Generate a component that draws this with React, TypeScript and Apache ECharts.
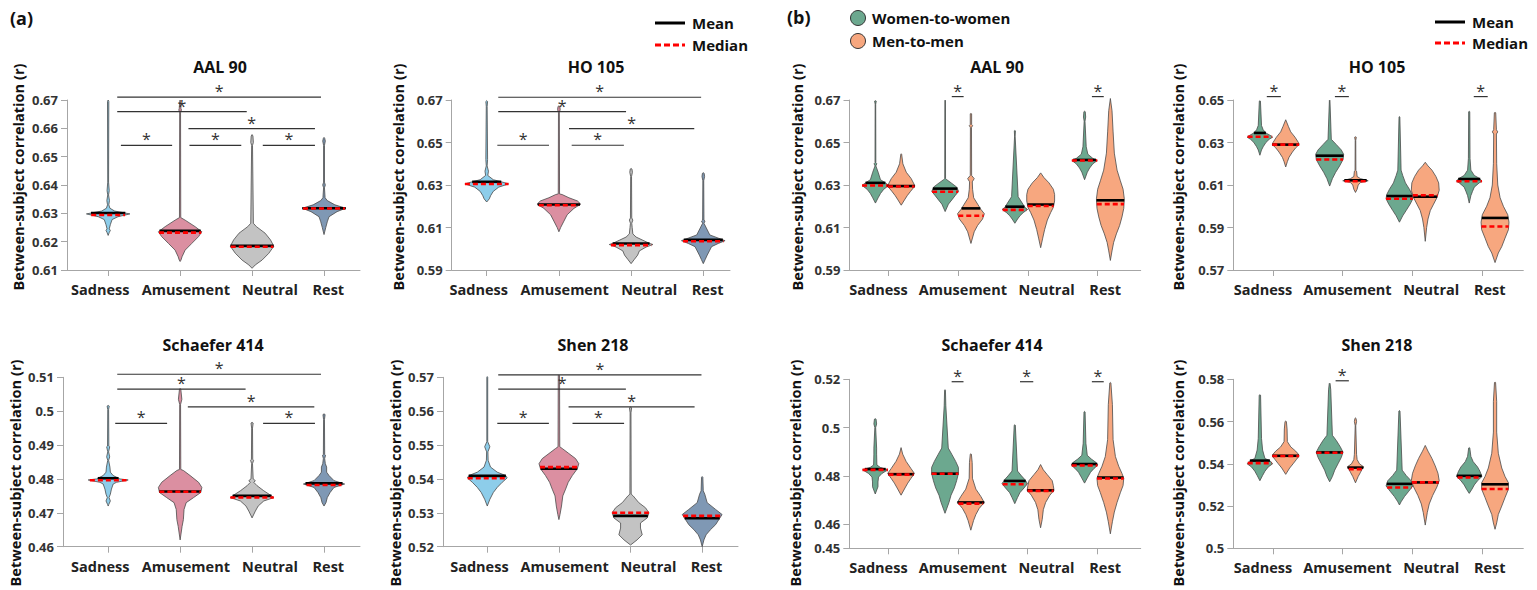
import React, { useEffect, useRef } from 'react';
import * as echarts from 'echarts';

// ---------------- DATA ----------------
const categories = ['Sadness', 'Amusement', 'Neutral', 'Rest'];
const conditionColors = ['#8DCDEA', '#DB8FA1', '#C3C3C3', '#7F98B4'];
const groupNames = ['Women-to-women', 'Men-to-men'];
const groupColors = ['#6CA88F', '#F7A77F'];
const panelTitles = ['AAL 90', 'HO 105', 'Schaefer 414', 'Shen 218', 'AAL 90', 'HO 105', 'Schaefer 414', 'Shen 218'];
const yAxisName = 'Between-subject correlation (r)';

// violin profiles: [value, relative density (0..1 of widest)]
// ---- (a) AAL 90
const aAAL90Ticks = [0.61, 0.62, 0.63, 0.64, 0.65, 0.66, 0.67];
const aAAL90Sadness = [[0.670, 0], [0.6695, 0.03], [0.641, 0.02], [0.638, 0.05], [0.6365, 0.02], [0.6345, 0.06], [0.633, 0.03], [0.6318, 0.08], [0.6308, 0.3], [0.6298, 1], [0.6288, 0.45], [0.6278, 0.18], [0.626, 0.1], [0.6245, 0.05], [0.624, 0.1], [0.6232, 0.05], [0.6222, 0]];
const aAAL90Amusement = [[0.670, 0], [0.6695, 0.02], [0.667, 0.04], [0.6665, 0.06], [0.6655, 0.02], [0.6285, 0.03], [0.6276, 0.23], [0.6253, 0.69], [0.6235, 1], [0.6218, 0.85], [0.6194, 0.54], [0.617, 0.23], [0.6147, 0.09], [0.6135, 0.04], [0.613, 0]];
const aAAL90Neutral = [[0.6578, 0], [0.6573, 0.04], [0.655, 0.06], [0.654, 0.02], [0.6265, 0.06], [0.6253, 0.2], [0.623, 0.6], [0.6206, 0.85], [0.6184, 1], [0.6159, 0.77], [0.6135, 0.46], [0.6118, 0.15], [0.6106, 0]];
const aAAL90Rest = [[0.6568, 0], [0.6565, 0.03], [0.6555, 0.06], [0.654, 0.02], [0.641, 0.02], [0.640, 0.06], [0.639, 0.02], [0.6355, 0.05], [0.6345, 0.15], [0.633, 0.5], [0.6318, 1], [0.6306, 0.6], [0.6288, 0.23], [0.627, 0.15], [0.625, 0.08], [0.6225, 0]];
const aAAL90Mean = [0.6301, 0.6238, 0.6185, 0.6318];
const aAAL90Median = [0.6294, 0.6232, 0.6182, 0.6317];
const aAAL90Sig = [[0.126, 2.958, 0.6710], [0.126, 1.926, 0.6659], [1.116, 2.874, 0.6599], [0.177, 0.889, 0.654], [1.13, 1.85, 0.654], [2.149, 2.874, 0.654]];

// ---- (a) HO 105
const aHO105Ticks = [0.59, 0.61, 0.63, 0.65, 0.67];
const aHO105Sadness = [[0.6697, 0], [0.6693, 0.04], [0.667, 0.02], [0.642, 0.04], [0.639, 0.02], [0.6365, 0.08], [0.6345, 0.05], [0.6325, 0.3], [0.631, 0.85], [0.6305, 1], [0.629, 0.55], [0.627, 0.3], [0.625, 0.18], [0.6235, 0.12], [0.622, 0]];
const aHO105Amusement = [[0.6672, 0], [0.667, 0.04], [0.6655, 0.06], [0.664, 0.02], [0.6258, 0.03], [0.6255, 0.15], [0.624, 0.46], [0.6225, 0.85], [0.621, 1], [0.619, 0.69], [0.616, 0.38], [0.613, 0.23], [0.610, 0.08], [0.608, 0]];
const aHO105Neutral = [[0.6378, 0], [0.6375, 0.04], [0.636, 0.06], [0.634, 0.02], [0.6145, 0.03], [0.6135, 0.08], [0.612, 0.03], [0.610, 0.05], [0.607, 0.08], [0.6055, 0.23], [0.604, 0.54], [0.6025, 0.85], [0.602, 1], [0.6008, 0.69], [0.599, 0.38], [0.597, 0.3], [0.595, 0.15], [0.593, 0]];
const aHO105Rest = [[0.6358, 0], [0.6355, 0.04], [0.634, 0.06], [0.632, 0.02], [0.6135, 0.03], [0.613, 0.08], [0.612, 0.03], [0.6065, 0.3], [0.605, 0.69], [0.6038, 1], [0.6025, 0.69], [0.601, 0.38], [0.599, 0.28], [0.597, 0.18], [0.595, 0.09], [0.593, 0]];
const aHO105Mean = [0.6315, 0.6208, 0.6025, 0.6042];
const aHO105Median = [0.6305, 0.6205, 0.6017, 0.6035];
const aHO105Sig = [[0.16, 2.97, 0.6713], [0.16, 1.93, 0.6645], [1.14, 2.875, 0.6565], [0.147, 0.863, 0.6487], [1.177, 1.9, 0.6487]];

// ---- (a) Schaefer 414
const aSch414Ticks = [0.46, 0.47, 0.48, 0.49, 0.50, 0.51];
const aSch414Sadness = [[0.5017, 0], [0.5015, 0.05], [0.5005, 0.02], [0.4897, 0.03], [0.4895, 0.07], [0.488, 0.02], [0.4865, 0.07], [0.4855, 0.02], [0.4835, 0.08], [0.482, 0.1], [0.481, 0.23], [0.480, 0.54], [0.4797, 0.92], [0.479, 0.38], [0.4785, 0.23], [0.477, 0.15], [0.4755, 0.1], [0.4745, 0.04], [0.4735, 0.1], [0.4725, 0.03], [0.472, 0]];
const aSch414Amusement = [[0.5067, 0], [0.5065, 0.03], [0.5035, 0.08], [0.502, 0.02], [0.4828, 0.03], [0.4825, 0.15], [0.481, 0.46], [0.479, 0.85], [0.4775, 1], [0.476, 0.95], [0.4745, 0.62], [0.473, 0.28], [0.471, 0.18], [0.468, 0.15], [0.466, 0.09], [0.462, 0]];
const aSch414Neutral = [[0.4967, 0], [0.4965, 0.05], [0.495, 0.02], [0.4858, 0.03], [0.4855, 0.07], [0.4845, 0.02], [0.480, 0.05], [0.4795, 0.15], [0.479, 0.08], [0.478, 0.23], [0.4765, 0.54], [0.4752, 0.85], [0.4745, 1], [0.4735, 0.54], [0.472, 0.28], [0.4705, 0.15], [0.4685, 0]];
const aSch414Rest = [[0.4992, 0], [0.499, 0.05], [0.4975, 0.02], [0.4872, 0.03], [0.487, 0.07], [0.486, 0.03], [0.4845, 0.06], [0.4835, 0.12], [0.482, 0.12], [0.481, 0.23], [0.4795, 0.46], [0.4785, 0.95], [0.4775, 0.46], [0.476, 0.28], [0.4745, 0.15], [0.473, 0.09], [0.472, 0]];
const aSch414Mean = [0.4802, 0.4763, 0.475, 0.4787];
const aSch414Median = [0.4796, 0.4762, 0.4745, 0.4782];
const aSch414Sig = [[0.126, 2.958, 0.5109], [0.126, 1.91, 0.5065], [1.107, 2.865, 0.5013], [0.098, 0.819, 0.4964], [2.153, 2.874, 0.4964]];

// ---- (a) Shen 218
const aShen218Ticks = [0.52, 0.53, 0.54, 0.55, 0.56, 0.57];
const aShen218Sadness = [[0.5702, 0], [0.570, 0.02], [0.551, 0.02], [0.5495, 0.12], [0.548, 0.03], [0.5455, 0.04], [0.5435, 0.15], [0.542, 0.46], [0.541, 0.85], [0.5403, 0.92], [0.539, 0.69], [0.5375, 0.46], [0.536, 0.28], [0.534, 0.12], [0.532, 0]];
const aShen218Amusement = [[0.5707, 0], [0.5705, 0.03], [0.5495, 0.04], [0.549, 0.15], [0.5475, 0.46], [0.546, 0.77], [0.5445, 0.92], [0.543, 0.85], [0.541, 0.62], [0.539, 0.43], [0.537, 0.31], [0.535, 0.18], [0.532, 0.12], [0.5295, 0.05], [0.528, 0]];
const aShen218Neutral = [[0.5612, 0], [0.561, 0.05], [0.5595, 0.02], [0.5355, 0.03], [0.535, 0.12], [0.533, 0.38], [0.5315, 0.69], [0.530, 0.85], [0.5285, 0.77], [0.527, 0.46], [0.5255, 0.46], [0.5235, 0.54], [0.522, 0.3], [0.5205, 0]];
const aShen218Rest = [[0.5407, 0], [0.5405, 0.03], [0.5365, 0.05], [0.5355, 0.12], [0.533, 0.23], [0.531, 0.62], [0.5295, 0.92], [0.528, 0.77], [0.5265, 0.62], [0.525, 0.38], [0.5235, 0.18], [0.522, 0.08], [0.5205, 0.02], [0.520, 0]];
const aShen218Mean = [0.5409, 0.543, 0.5291, 0.5284];
const aShen218Median = [0.5402, 0.5435, 0.530, 0.5291];
const aShen218Sig = [[0.153, 2.99, 0.5707], [0.153, 1.935, 0.5665], [1.135, 2.894, 0.5613], [0.14, 0.86, 0.5564], [1.19, 1.91, 0.5564]];

// ---- (b) AAL 90
const bAAL90Ticks = [0.59, 0.61, 0.63, 0.65, 0.67];
const bAAL90Women = [
  [[0.6697, 0], [0.6695, 0.06], [0.668, 0.02], [0.6405, 0.03], [0.640, 0.1], [0.639, 0.03], [0.636, 0.2], [0.6325, 0.37], [0.631, 0.73], [0.6298, 0.98], [0.628, 0.61], [0.626, 0.37], [0.624, 0.2], [0.6215, 0]],
  [[0.670, 0], [0.6698, 0.02], [0.633, 0.03], [0.6325, 0.12], [0.631, 0.44], [0.629, 0.85], [0.627, 0.98], [0.625, 0.73], [0.623, 0.49], [0.621, 0.24], [0.6175, 0]],
  [[0.6557, 0], [0.6555, 0.04], [0.653, 0.02], [0.6245, 0.24], [0.622, 0.49], [0.6195, 0.73], [0.6185, 0.93], [0.617, 0.61], [0.6155, 0.37], [0.614, 0.2], [0.612, 0]],
  [[0.6647, 0], [0.6645, 0.05], [0.662, 0.08], [0.660, 0.03], [0.648, 0.12], [0.6445, 0.24], [0.6425, 0.61], [0.6415, 0.93], [0.640, 0.61], [0.638, 0.37], [0.636, 0.2], [0.6325, 0]],
];
const bAAL90Men = [
  [[0.6447, 0], [0.6445, 0.03], [0.640, 0.12], [0.636, 0.37], [0.633, 0.73], [0.6305, 0.93], [0.6295, 1], [0.627, 0.68], [0.625, 0.44], [0.623, 0.24], [0.6205, 0]],
  [[0.6637, 0], [0.6635, 0.05], [0.6585, 0.05], [0.658, 0.12], [0.657, 0.04], [0.6345, 0.05], [0.633, 0.24], [0.6315, 0.1], [0.628, 0.12], [0.624, 0.2], [0.621, 0.49], [0.6185, 0.73], [0.6165, 0.98], [0.614, 0.85], [0.611, 0.49], [0.608, 0.24], [0.6025, 0]],
  [[0.6357, 0], [0.6335, 0.24], [0.631, 0.61], [0.628, 0.93], [0.6255, 1.02], [0.6225, 1.02], [0.6195, 0.93], [0.617, 0.73], [0.6135, 0.49], [0.609, 0.29], [0.605, 0.15], [0.6005, 0]],
  [[0.6707, 0], [0.665, 0.12], [0.655, 0.2], [0.645, 0.29], [0.637, 0.49], [0.632, 0.73], [0.628, 0.93], [0.6235, 1.02], [0.619, 0.98], [0.615, 0.85], [0.611, 0.68], [0.607, 0.44], [0.603, 0.24], [0.599, 0.12], [0.5945, 0]],
];
const bAAL90WomenMean = [0.631, 0.6283, 0.6198, 0.6418];
const bAAL90WomenMedian = [0.6298, 0.6268, 0.6183, 0.6415];
const bAAL90MenMean = [0.6295, 0.619, 0.6208, 0.6228];
const bAAL90MenMedian = [0.6293, 0.6155, 0.6201, 0.621];
const bAAL90Sig = [[0.91, 1.08, 0.6716], [2.92, 3.09, 0.6716]];

// ---- (b) HO 105
const bHO105Ticks = [0.57, 0.59, 0.61, 0.63, 0.65];
const bHO105Women = [
  [[0.6497, 0], [0.6495, 0.04], [0.638, 0.12], [0.636, 0.24], [0.6345, 0.44], [0.633, 0.85], [0.6325, 0.93], [0.6315, 0.68], [0.630, 0.44], [0.628, 0.24], [0.6265, 0.12], [0.624, 0]],
  [[0.650, 0], [0.6498, 0.02], [0.6315, 0.12], [0.629, 0.49], [0.6265, 0.85], [0.6245, 1.02], [0.622, 0.98], [0.619, 0.73], [0.616, 0.44], [0.613, 0.2], [0.6095, 0]],
  [[0.6422, 0], [0.642, 0.03], [0.617, 0.12], [0.6145, 0.24], [0.611, 0.44], [0.608, 0.73], [0.6055, 0.93], [0.6035, 0.98], [0.601, 0.78], [0.598, 0.49], [0.5955, 0.24], [0.5925, 0]],
  [[0.6447, 0], [0.6445, 0.04], [0.6225, 0.06], [0.617, 0.12], [0.6145, 0.37], [0.613, 0.78], [0.6118, 0.93], [0.611, 0.73], [0.609, 0.37], [0.607, 0.24], [0.605, 0.12], [0.6015, 0]],
];
const bHO105Men = [
  [[0.6407, 0], [0.6375, 0.2], [0.635, 0.37], [0.6325, 0.68], [0.630, 0.93], [0.629, 0.98], [0.6275, 0.73], [0.6255, 0.49], [0.623, 0.24], [0.621, 0.12], [0.6185, 0]],
  [[0.6327, 0], [0.6325, 0.06], [0.631, 0.02], [0.6168, 0.03], [0.6165, 0.08], [0.614, 0.12], [0.613, 0.37], [0.612, 0.93], [0.6112, 0.37], [0.610, 0.2], [0.608, 0.12], [0.6065, 0]],
  [[0.6207, 0], [0.619, 0.2], [0.617, 0.49], [0.614, 0.78], [0.611, 0.98], [0.6075, 1.02], [0.604, 0.85], [0.601, 0.61], [0.598, 0.37], [0.594, 0.2], [0.590, 0.1], [0.5835, 0]],
  [[0.6442, 0], [0.644, 0.05], [0.636, 0.1], [0.635, 0.2], [0.634, 0.1], [0.620, 0.12], [0.610, 0.2], [0.604, 0.37], [0.600, 0.61], [0.596, 0.93], [0.5925, 1.02], [0.589, 0.98], [0.585, 0.73], [0.581, 0.49], [0.578, 0.24], [0.5735, 0]],
];
const bHO105WomenMean = [0.6345, 0.6238, 0.6048, 0.6128];
const bHO105WomenMedian = [0.6327, 0.622, 0.6035, 0.6118];
const bHO105MenMean = [0.629, 0.6122, 0.6045, 0.5945];
const bHO105MenMedian = [0.629, 0.6118, 0.6052, 0.5905];
const bHO105Sig = [[-0.086, 0.115, 0.6516], [0.89, 1.09, 0.6516], [2.88, 3.08, 0.6516]];

// ---- (b) Schaefer 414
const bSch414Ticks = [0.45, 0.46, 0.48, 0.50, 0.52];
const bSch414Women = [
  [[0.5037, 0], [0.5035, 0.06], [0.5015, 0.1], [0.500, 0.03], [0.4915, 0.1], [0.489, 0.1], [0.4845, 0.12], [0.4835, 0.37], [0.4825, 0.93], [0.481, 0.49], [0.4795, 0.24], [0.4775, 0.2], [0.4755, 0.2], [0.4725, 0]],
  [[0.5157, 0], [0.5155, 0.03], [0.509, 0.06], [0.4915, 0.24], [0.489, 0.49], [0.486, 0.78], [0.4835, 0.98], [0.481, 0.98], [0.478, 0.85], [0.475, 0.68], [0.472, 0.44], [0.469, 0.29], [0.4645, 0]],
  [[0.5012, 0], [0.501, 0.04], [0.482, 0.2], [0.480, 0.49], [0.4785, 0.73], [0.4768, 0.93], [0.475, 0.68], [0.473, 0.37], [0.471, 0.2], [0.4685, 0]],
  [[0.5067, 0], [0.5065, 0.04], [0.4935, 0.1], [0.4885, 0.2], [0.487, 0.49], [0.4855, 0.85], [0.4845, 0.98], [0.483, 0.68], [0.4815, 0.44], [0.4795, 0.24], [0.477, 0]],
];
const bSch414Men = [
  [[0.4917, 0], [0.489, 0.12], [0.486, 0.37], [0.483, 0.73], [0.481, 0.98], [0.479, 0.73], [0.477, 0.49], [0.475, 0.29], [0.472, 0]],
  [[0.4892, 0], [0.489, 0.04], [0.4855, 0.1], [0.479, 0.12], [0.4745, 0.37], [0.4715, 0.73], [0.469, 0.98], [0.4665, 0.61], [0.464, 0.37], [0.4615, 0.2], [0.4575, 0]],
  [[0.4847, 0], [0.4825, 0.2], [0.4805, 0.49], [0.478, 0.85], [0.476, 0.93], [0.474, 0.98], [0.472, 0.68], [0.469, 0.37], [0.466, 0.2], [0.462, 0.12], [0.4585, 0]],
  [[0.5187, 0], [0.5185, 0.04], [0.5095, 0.15], [0.495, 0.2], [0.488, 0.37], [0.484, 0.61], [0.481, 0.85], [0.479, 0.98], [0.476, 0.93], [0.473, 0.73], [0.469, 0.49], [0.465, 0.29], [0.461, 0.15], [0.456, 0]],
];
const bSch414WomenMean = [0.4828, 0.4809, 0.4779, 0.4849];
const bSch414WomenMedian = [0.4825, 0.4809, 0.4765, 0.4843];
const bSch414MenMean = [0.4807, 0.469, 0.474, 0.4793];
const bSch414MenMedian = [0.4805, 0.4685, 0.4738, 0.4789];
const bSch414Sig = [[0.91, 1.08, 0.519], [1.89, 2.08, 0.519], [2.92, 3.09, 0.519]];

// ---- (b) Shen 218
const bShen218Ticks = [0.50, 0.52, 0.54, 0.56, 0.58];
const bShen218Women = [
  [[0.5727, 0], [0.5725, 0.05], [0.552, 0.12], [0.5465, 0.2], [0.5425, 0.37], [0.5415, 0.73], [0.540, 0.93], [0.5385, 0.61], [0.5365, 0.37], [0.5345, 0.2], [0.532, 0]],
  [[0.5782, 0], [0.578, 0.03], [0.575, 0.08], [0.5535, 0.2], [0.551, 0.49], [0.548, 0.78], [0.5455, 0.98], [0.543, 0.85], [0.540, 0.61], [0.537, 0.37], [0.534, 0.2], [0.5315, 0]],
  [[0.5652, 0], [0.565, 0.04], [0.537, 0.2], [0.5345, 0.49], [0.532, 0.85], [0.5295, 0.98], [0.527, 0.68], [0.5245, 0.37], [0.522, 0.12], [0.5205, 0]],
  [[0.5477, 0], [0.5475, 0.04], [0.5435, 0.12], [0.541, 0.29], [0.5385, 0.61], [0.5365, 0.78], [0.534, 0.93], [0.532, 0.61], [0.530, 0.37], [0.528, 0.2], [0.526, 0]],
];
const bShen218Men = [
  [[0.5602, 0], [0.560, 0.05], [0.5565, 0.1], [0.5505, 0.12], [0.548, 0.37], [0.546, 0.73], [0.5445, 0.93], [0.5437, 0.98], [0.542, 0.78], [0.540, 0.54], [0.538, 0.29], [0.535, 0]],
  [[0.5617, 0], [0.5615, 0.04], [0.560, 0.08], [0.558, 0.02], [0.5445, 0.08], [0.542, 0.12], [0.540, 0.29], [0.5385, 0.61], [0.5375, 0.49], [0.536, 0.37], [0.534, 0.2], [0.531, 0]],
  [[0.5487, 0], [0.546, 0.2], [0.5425, 0.49], [0.539, 0.73], [0.5355, 0.93], [0.532, 1.02], [0.529, 0.85], [0.525, 0.54], [0.521, 0.29], [0.517, 0.15], [0.511, 0]],
  [[0.5787, 0], [0.5785, 0.04], [0.5695, 0.12], [0.555, 0.12], [0.545, 0.24], [0.538, 0.49], [0.534, 0.73], [0.531, 0.98], [0.528, 0.98], [0.524, 0.73], [0.520, 0.49], [0.516, 0.24], [0.512, 0.12], [0.509, 0]],
];
const bShen218WomenMean = [0.5415, 0.5454, 0.5305, 0.5343];
const bShen218WomenMedian = [0.5403, 0.5452, 0.5288, 0.5335];
const bShen218MenMean = [0.5438, 0.5382, 0.5312, 0.5303];
const bShen218MenMedian = [0.5437, 0.5375, 0.5312, 0.5281];
const bShen218Sig = [[0.9, 1.09, 0.5793]];

// ---------------- LAYOUT / STYLE ----------------
const FONT = '"Open Sans", "Noto Sans", sans-serif';
const AXIS_COLOR = '#A6A6A6';
const tickPositions = [0, 1, 2, 3];
const labelPosA = [-0.11, 1.08, 2.25, 3.06];
const labelPosB = [-0.14, 1.07, 2.27, 3.11];
const layouts = [
  { left: 67, right: 1177, top: 100, bottom: 320, xMin: -0.572, xMax: 3.5, titleX: 220, titleY: 67, nameX: 18, nameY: 177 },
  { left: 451.7, right: 807, top: 100, bottom: 320, xMin: -0.485, xMax: 3.37, titleX: 596, titleY: 67, nameX: 398, nameY: 177 },
  { left: 63, right: 1177, top: 377.3, bottom: 43.3, xMin: -0.628, xMax: 3.5, titleX: 213, titleY: 345, nameX: 15, nameY: 473 },
  { left: 443, right: 799, top: 377.3, bottom: 43.3, xMin: -0.618, xMax: 3.5, titleX: 593, titleY: 345, nameX: 395, nameY: 473 },
  { left: 849.5, right: 396.3, top: 100, bottom: 320, xMin: -0.557, xMax: 3.62, titleX: 997, titleY: 67, nameX: 797, nameY: 177 },
  { left: 1233.3, right: 13.7, top: 100, bottom: 320, xMin: -0.566, xMax: 3.59, titleX: 1377, titleY: 67, nameX: 1178, nameY: 177 },
  { left: 849.3, right: 396.3, top: 379.3, bottom: 41.7, xMin: -0.557, xMax: 3.62, titleX: 992, titleY: 345, nameX: 795, nameY: 473 },
  { left: 1233.3, right: 13.7, top: 379.3, bottom: 41.7, xMin: -0.566, xMax: 3.59, titleX: 1377, titleY: 345, nameX: 1178, nameY: 473 },
];
const HALF_A = 0.302;
const HALF_B = 0.196;
const OFFSET_B = 0.185;

type Item = { cx: number; knots: number[][]; color: string; mean: number; median: number; half: number };

function widthAt(knots: number[][], v: number): number {
  for (let i = 0; i < knots.length - 1; i++) {
    const [v1, d1] = knots[i];
    const [v2, d2] = knots[i + 1];
    if ((v <= v1 && v >= v2) || (v >= v1 && v <= v2)) {
      if (v1 === v2) return Math.max(d1, d2);
      return d1 + ((v - v1) / (v2 - v1)) * (d2 - d1);
    }
  }
  return 0;
}

function panelA(shapes: number[][][], means: number[], medians: number[]): Item[] {
  return shapes.map((k, i) => ({ cx: i, knots: k, color: conditionColors[i], mean: means[i], median: medians[i], half: HALF_A }));
}
function panelB(w: number[][][], m: number[][][], wMean: number[], wMed: number[], mMean: number[], mMed: number[]): Item[] {
  const out: Item[] = [];
  w.forEach((k, i) => out.push({ cx: i - OFFSET_B, knots: k, color: groupColors[0], mean: wMean[i], median: wMed[i], half: HALF_B }));
  m.forEach((k, i) => out.push({ cx: i + OFFSET_B, knots: k, color: groupColors[1], mean: mMean[i], median: mMed[i], half: HALF_B }));
  return out;
}

const panels = [
  { ticks: aAAL90Ticks, sig: aAAL90Sig, labelPos: labelPosA, items: panelA([aAAL90Sadness, aAAL90Amusement, aAAL90Neutral, aAAL90Rest], aAAL90Mean, aAAL90Median) },
  { ticks: aHO105Ticks, sig: aHO105Sig, labelPos: labelPosA, items: panelA([aHO105Sadness, aHO105Amusement, aHO105Neutral, aHO105Rest], aHO105Mean, aHO105Median) },
  { ticks: aSch414Ticks, sig: aSch414Sig, labelPos: labelPosA, items: panelA([aSch414Sadness, aSch414Amusement, aSch414Neutral, aSch414Rest], aSch414Mean, aSch414Median) },
  { ticks: aShen218Ticks, sig: aShen218Sig, labelPos: labelPosA, items: panelA([aShen218Sadness, aShen218Amusement, aShen218Neutral, aShen218Rest], aShen218Mean, aShen218Median) },
  { ticks: bAAL90Ticks, sig: bAAL90Sig, labelPos: labelPosB, items: panelB(bAAL90Women, bAAL90Men, bAAL90WomenMean, bAAL90WomenMedian, bAAL90MenMean, bAAL90MenMedian) },
  { ticks: bHO105Ticks, sig: bHO105Sig, labelPos: labelPosB, items: panelB(bHO105Women, bHO105Men, bHO105WomenMean, bHO105WomenMedian, bHO105MenMean, bHO105MenMedian) },
  { ticks: bSch414Ticks, sig: bSch414Sig, labelPos: labelPosB, items: panelB(bSch414Women, bSch414Men, bSch414WomenMean, bSch414WomenMedian, bSch414MenMean, bSch414MenMedian) },
  { ticks: bShen218Ticks, sig: bShen218Sig, labelPos: labelPosB, items: panelB(bShen218Women, bShen218Men, bShen218WomenMean, bShen218WomenMedian, bShen218MenMean, bShen218MenMedian) },
];

function buildOption(): any {
  const grid: any[] = [];
  const xAxis: any[] = [];
  const yAxis: any[] = [];
  const series: any[] = [];
  const graphic: any[] = [];

  panels.forEach((p, gi) => {
    const L = layouts[gi];
    const lp = p.labelPos;
    grid.push({ left: L.left, right: L.right, top: L.top, bottom: L.bottom, containLabel: false, outerBoundsMode: 'none' });
    xAxis.push({
      type: 'value', gridIndex: gi, min: L.xMin, max: L.xMax,
      splitLine: { show: false },
      axisLine: { show: true, onZero: false, lineStyle: { color: AXIS_COLOR, width: 1 } },
      axisTick: { show: true, customValues: tickPositions, length: 6, lineStyle: { color: AXIS_COLOR } },
      axisLabel: {
        customValues: lp, margin: 12, hideOverlap: false, showMinLabel: true, showMaxLabel: true,
        formatter: (v: number) => {
          let best = 0;
          lp.forEach((q, i) => { if (Math.abs(q - v) < Math.abs(lp[best] - v)) best = i; });
          return categories[best];
        },
        fontFamily: FONT, fontWeight: 'bold', fontSize: 14.5, color: '#222',
      },
    });
    yAxis.push({
      type: 'value', gridIndex: gi, min: p.ticks[0], max: p.ticks[p.ticks.length - 1],
      splitLine: { show: false },
      axisLine: { show: true, onZero: false, lineStyle: { color: AXIS_COLOR, width: 1 } },
      axisTick: { show: true, customValues: p.ticks, length: 6, lineStyle: { color: AXIS_COLOR } },
      axisLabel: {
        customValues: p.ticks, margin: 9, showMinLabel: true, showMaxLabel: true,
        formatter: (v: number) => String(parseFloat(v.toFixed(2))),
        fontFamily: FONT, fontWeight: 'bold', fontSize: 13, color: '#333',
      },
    });

    const items = p.items;
    series.push({
      type: 'custom', name: 'violin-' + gi, xAxisIndex: gi, yAxisIndex: gi, clip: false, z: 2,
      data: items.map((it) => [it.cx, it.median]),
      renderItem: (params: any, api: any) => {
        const it = items[params.dataIndex];
        const right = it.knots.map(([v, d]) => api.coord([it.cx + d * it.half, v]));
        const left = it.knots.slice().reverse().map(([v, d]) => api.coord([it.cx - d * it.half, v]));
        return {
          type: 'polygon',
          shape: { points: right.concat(left) },
          style: { fill: it.color, stroke: '#4A4A4A', lineWidth: 0.8 },
        };
      },
    });
    series.push({
      type: 'custom', name: 'stats-' + gi, xAxisIndex: gi, yAxisIndex: gi, clip: false, z: 3,
      data: items.map((it) => [it.cx, it.mean]),
      renderItem: (params: any, api: any) => {
        const it = items[params.dataIndex];
        const wm = Math.max(widthAt(it.knots, it.mean), 0.35) * it.half;
        const wd = Math.max(widthAt(it.knots, it.median), 0.35) * it.half;
        const m1 = api.coord([it.cx - wm, it.mean]);
        const m2 = api.coord([it.cx + wm, it.mean]);
        const d1 = api.coord([it.cx - wd, it.median]);
        const d2 = api.coord([it.cx + wd, it.median]);
        return {
          type: 'group',
          children: [
            { type: 'line', shape: { x1: m1[0], y1: m1[1], x2: m2[0], y2: m2[1] }, style: { stroke: '#000', lineWidth: 2.6 } },
            { type: 'line', shape: { x1: d1[0], y1: d1[1], x2: d2[0], y2: d2[1] }, style: { stroke: '#FF0000', lineWidth: 2.6, lineDash: [5, 3] } },
          ],
        };
      },
    });
    series.push({
      type: 'custom', name: 'sig-' + gi, xAxisIndex: gi, yAxisIndex: gi, clip: false, z: 4,
      data: p.sig,
      renderItem: (params: any, api: any) => {
        const a = api.coord([api.value(0), api.value(2)]);
        const b = api.coord([api.value(1), api.value(2)]);
        return {
          type: 'group',
          children: [
            { type: 'line', shape: { x1: a[0], y1: a[1], x2: b[0], y2: a[1] }, style: { stroke: '#333', lineWidth: 1.2 } },
            { type: 'text', x: (a[0] + b[0]) / 2, y: a[1] - 6, style: { text: '*', fontSize: 16, fontFamily: FONT, fill: '#333', align: 'center', verticalAlign: 'middle' } },
          ],
        };
      },
    });

    graphic.push({
      type: 'text', x: L.titleX, y: L.titleY,
      style: { text: panelTitles[gi], fontSize: 16, fontWeight: 'bold', fontFamily: FONT, fill: '#111', align: 'center', verticalAlign: 'middle' },
    });
    graphic.push({
      type: 'text', x: L.nameX, y: L.nameY, rotation: Math.PI / 2,
      style: { text: yAxisName, fontSize: 14.6, fontWeight: 'bold', fontFamily: FONT, fill: '#111', align: 'center', verticalAlign: 'middle' },
    });
  });

  // panel letters
  graphic.push({ type: 'text', x: 10, y: 18, style: { text: '(a)', fontSize: 18, fontWeight: 'bold', fontFamily: FONT, fill: '#111', verticalAlign: 'middle' } });
  graphic.push({ type: 'text', x: 787, y: 17, style: { text: '(b)', fontSize: 18, fontWeight: 'bold', fontFamily: FONT, fill: '#111', verticalAlign: 'middle' } });

  // Mean / Median legends
  const legendSpots = [{ x: 655, y1: 23, y2: 45 }, { x: 1435, y1: 22, y2: 43 }];
  legendSpots.forEach((s) => {
    graphic.push({ type: 'line', shape: { x1: s.x, y1: s.y1, x2: s.x + 30, y2: s.y1 }, style: { stroke: '#000', lineWidth: 3 } });
    graphic.push({ type: 'line', shape: { x1: s.x, y1: s.y2, x2: s.x + 30, y2: s.y2 }, style: { stroke: '#FF0000', lineWidth: 3, lineDash: [6, 3] } });
    graphic.push({ type: 'text', x: s.x + 37, y: s.y1, style: { text: 'Mean', fontSize: 15, fontWeight: 'bold', fontFamily: FONT, fill: '#111', verticalAlign: 'middle' } });
    graphic.push({ type: 'text', x: s.x + 37, y: s.y2, style: { text: 'Median', fontSize: 15, fontWeight: 'bold', fontFamily: FONT, fill: '#111', verticalAlign: 'middle' } });
  });
  // group legend
  [18, 41].forEach((y, i) => {
    graphic.push({ type: 'circle', shape: { cx: 858, cy: y, r: 7.5 }, style: { fill: groupColors[i], stroke: '#333', lineWidth: 1 } });
    graphic.push({ type: 'text', x: 872, y, style: { text: groupNames[i], fontSize: 15, fontWeight: 'bold', fontFamily: FONT, fill: '#111', verticalAlign: 'middle' } });
  });

  return { animation: false, backgroundColor: '#fff', grid, xAxis, yAxis, series, graphic };
}

export default function App() {
  const ref = useRef<HTMLDivElement>(null);
  useEffect(() => {
    if (!ref.current) return;
    const chart = echarts.init(ref.current, null, { renderer: 'svg' });
    chart.setOption(buildOption());
    return () => chart.dispose();
  }, []);
  return <div ref={ref} style={{ position: 'fixed', left: 0, top: 0, width: 1537, height: 590, background: '#fff' }} />;
}
